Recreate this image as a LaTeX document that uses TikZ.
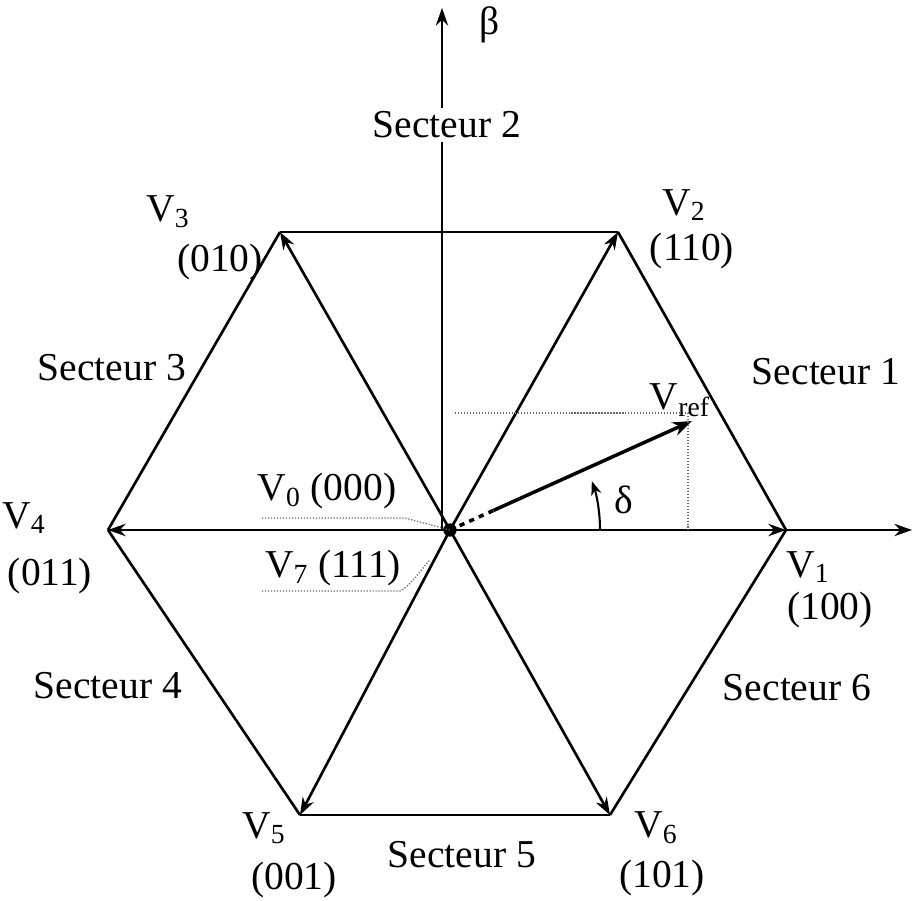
\documentclass[tikz,border=0pt]{standalone}
\usepackage{fontspec}
\setmainfont{Liberation Serif}
\usetikzlibrary{arrows.meta,calc}
\begin{document}
\begin{tikzpicture}[x=0.02cm,y=-0.02cm,
  edge/.style={line width=1.5pt},
  vec/.style={line width=1.5pt,-{Stealth[length=10pt,width=7pt]}},
  guide/.style={densely dotted,line width=0.7pt,gray!80!black},
  lbl/.style={font=\fontsize{22.5}{26}\selectfont,inner sep=0pt}]
\useasboundingbox (0,0) rectangle (912,901);
\coordinate (O) at (450,530);
\coordinate (V1) at (786,530);
\coordinate (V2) at (618,232);
\coordinate (V3) at (280,232);
\coordinate (V4) at (108,530);
\coordinate (V5) at (300,815);
\coordinate (V6) at (610,815);
\coordinate (AX) at (912,530);
\coordinate (BY) at (442,8);
\coordinate (Bbase) at (442,530);
\coordinate (Ref) at (692,421);
% hexagon
\draw[edge] (V2) -- (V3);
\draw[edge] (V3) -- (V4);
\draw[edge] (V4) -- (V5);
\draw[edge] (V5) -- (V6);
\draw[edge] (V6) -- (V1);
\draw[edge] (V1) -- (V2);
% axes
\draw[line width=1.2pt,-{Stealth[length=10pt,width=7pt]}] (V4) -- (AX);
\draw[line width=1.2pt,-{Stealth[length=10pt,width=7pt]}] (Bbase) -- (BY);
% spokes
\draw[vec] (O) -- (V1);
\draw[vec] (O) -- (V2);
\draw[vec] (O) -- (V3);
\draw[vec] (O) -- (V4);
\draw[vec] (O) -- (V5);
\draw[vec] (O) -- (V6);
\fill (O) circle (3.8pt);
% Vref
\coordinate (RefA) at ($(O)!0.18!(Ref)$);
\draw[line width=2pt,dashed] (O) -- (RefA);
\draw[line width=2pt,-{Stealth[length=11pt,width=8pt]}] (RefA) -- (Ref);
\coordinate (Hs) at (455,413);
\coordinate (He) at (688,413);
\coordinate (Vb) at (688,530);
\draw[guide] (Hs) -- (He);
\draw[guide] (He) -- (Vb);
% delta arc
\draw[line width=1.2pt,-{Stealth[length=8pt,width=6pt]}] (600,530) arc[start angle=0,end angle=-19,radius=150];
\node[lbl] (delta) at (624,500) {δ};
% V0, V7 guides
\coordinate (G0a) at (262,518);
\coordinate (G0b) at (405,518);
\coordinate (G7a) at (262,591);
\coordinate (G7b) at (400,591);
\draw[guide] (G0a) -- (G0b) -- (O);
\draw[guide] (G7a) -- (G7b) .. controls (412,585) and (420,570) .. (430,560);
% labels
\node[lbl] (beta) at (490,25) {β};
\node[lbl,fill=white,inner sep=2pt] (s2) at (447,125) {Secteur 2};
\node[lbl] (s1) at (826,372) {Secteur 1};
\node[lbl] (s3) at (112,368) {Secteur 3};
\node[lbl] (s4) at (108,686) {Secteur 4};
\node[lbl] (s5) at (462,855) {Secteur 5};
\node[lbl] (s6) at (797,688) {Secteur 6};
\node[lbl] (l3) at (168,212) {V\textsubscript{3}};
\node[lbl] (c3) at (220,262) {(010)};
\node[lbl] (l2) at (684,205) {V\textsubscript{2}};
\node[lbl] (c2) at (692,251) {(110)};
\node[lbl] (l4) at (24,518) {V\textsubscript{4}};
\node[lbl] (c4) at (50,576) {(011)};
\node[lbl] (l1) at (808,567) {V\textsubscript{1}};
\node[lbl] (c1) at (830,610) {(100)};
\node[lbl] (l5) at (264,828) {V\textsubscript{5}};
\node[lbl] (c5) at (294,880) {(001)};
\node[lbl] (l6) at (656,828) {V\textsubscript{6}};
\node[lbl] (c6) at (662,878) {(101)};
\node[lbl] (lr) at (680,400) {V\textsubscript{ref}};
\node[lbl] (l0) at (327,491) {V\textsubscript{0} (000)};
\node[lbl] (l7) at (333,568) {V\textsubscript{7} (111)};
\end{tikzpicture}
\end{document}
